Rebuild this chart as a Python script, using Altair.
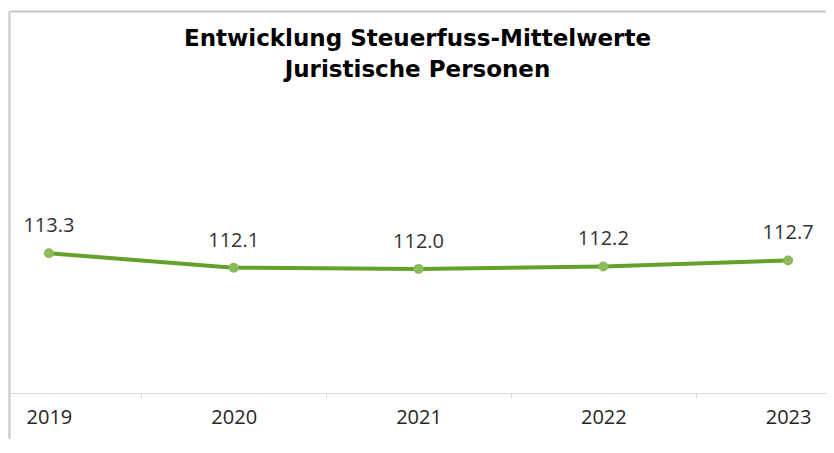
import altair as alt
import pandas as pd

years = [2019, 2020, 2021, 2022, 2023]
values = [113.3, 112.1, 112.0, 112.2, 112.7]
title_lines = ["Entwicklung Steuerfuss-Mittelwerte", "Juristische Personen"]
tick_values = [2019, 2019.5, 2020, 2020.5, 2021, 2021.5, 2022, 2022.5, 2023]

df = pd.DataFrame({"Jahr": years, "Wert": values})

FONT = "Open Sans"
W, H = 817, 428
X_DOMAIN = [2018.784, 2023.205]
Y_DOMAIN = [97.825, 133.49]
BORDER = "#c6c6c6"
AXIS_GRAY = "#d9d9d9"

x_scale = alt.Scale(domain=X_DOMAIN, nice=False, zero=False)
y_scale = alt.Scale(domain=Y_DOMAIN, nice=False, zero=False)

base = alt.Chart(df)

line = base.mark_line(color="#62a22b", strokeWidth=4).encode(
    x=alt.X("Jahr:Q", scale=x_scale, axis=alt.Axis(
        orient="bottom", values=tick_values, title=None, grid=False,
        labelExpr="datum.value % 1 === 0 ? format(datum.value, 'd') : ''",
        labelFont=FONT, labelFontSize=20, labelColor="#262626",
        labelOverlap=False, labelFlush=False, labelPadding=9,
        tickSize=5, tickWidth=1,
        tickColor={"condition": {"test": "datum.value % 1 === 0", "value": "transparent"}, "value": AXIS_GRAY},
        domainColor=AXIS_GRAY, domainWidth=1, offset=-46)),
    y=alt.Y("Wert:Q", scale=y_scale, axis=alt.Axis(
        orient="left", title=None, labels=False, ticks=False, grid=False,
        domainColor=BORDER, domainWidth=2)),
)

points = base.mark_point(filled=True, color="#8cbb5b", size=100, opacity=1).encode(
    x=alt.X("Jahr:Q", scale=x_scale, axis=None),
    y=alt.Y("Wert:Q", scale=y_scale),
)

labels = base.mark_text(font=FONT, fontSize=20, color="#333333", dy=-27, baseline="middle").encode(
    x=alt.X("Jahr:Q", scale=x_scale, axis=alt.Axis(
        orient="top", title=None, labels=False, ticks=False, grid=False,
        domainColor=BORDER, domainWidth=2)),
    y=alt.Y("Wert:Q", scale=y_scale),
    text=alt.Text("Wert:Q", format=".1f"),
)

chart = alt.layer(line, points, labels).resolve_axis(x="independent").properties(
    width=W, height=H,
    padding={"left": 1, "top": 3, "right": 0, "bottom": 0},
    autosize=alt.AutoSizeParams(type="none"),
    title=alt.TitleParams(text=title_lines, anchor="middle", font="DejaVu Sans", fontSize=23,
                          fontWeight="bold", color="#000000", lineHeight=31,
                          offset=-71, dx=0),
).configure_view(strokeWidth=0)

chart.save("out.html", embed_options={"renderer": "svg", "actions": False})
